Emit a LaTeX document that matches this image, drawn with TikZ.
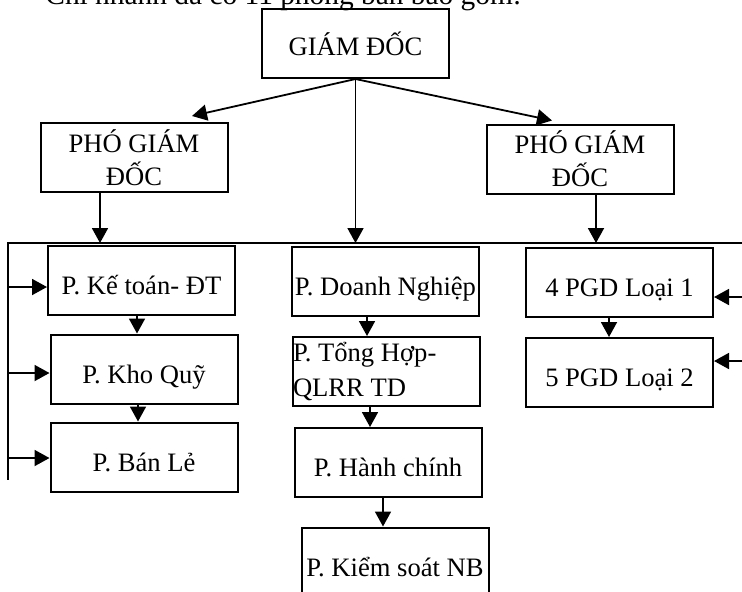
\documentclass[tikz,border=0pt]{standalone}
\usepackage{fontspec}
\setmainfont{Liberation Serif}
\usetikzlibrary{arrows.meta,positioning,calc}
\tikzset{
  orgbox/.style={draw,line width=1pt,inner sep=0pt,minimum width=93.5pt,minimum height=34.5pt,font=\fontsize{13.3}{16.5}\selectfont},
  unitbox/.style={orgbox,text height=14pt,text depth=0pt},
  orgarrow/.style={-{Triangle[length=7.5pt,width=8pt]},line width=0.9pt},
  busline/.style={line width=0.7pt},
}
\begin{document}
\begin{tikzpicture}[x=0.5pt,y=-0.5pt]
    \useasboundingbox (0,0) rectangle (742,591);
    \clip (0,0) rectangle (742,591);
    \node[anchor=base west,inner sep=0pt,font=\fontsize{14.7}{17}\selectfont] (intro) at (45,4) {Chi nhánh đã có 11 phòng ban bao gồm:};
    \node[orgbox] (gd) at (355.5,43.5) {GIÁM ĐỐC};
    \node[orgbox,align=center] (pgdl) at (134,157.5) {PHÓ GIÁM\\ĐỐC};
    \node[orgbox,align=center] (pgdr) at (580,159) {PHÓ GIÁM\\ĐỐC};
    \node[unitbox] (ketoan) at (141.5,280) {P. Kế toán- ĐT};
    \node[unitbox] (khoquy) at (144,369) {P. Kho Quỹ};
    \node[unitbox] (banle) at (144,457) {P. Bán Lẻ};
    \node[unitbox] (doanhng) at (385.5,281) {P. Doanh Nghiệp};
    \node[orgbox,text width=93.5pt,align=flush left,font=\fontsize{13.3}{17.5}\selectfont] (tonghop) at (386.5,371.5) {P. Tổng Hợp-\\QLRR TD};
    \node[unitbox] (hanhchinh) at (388,462.5) {P. Hành chính};
    \node[unitbox] (kiemsoat) at (395,562) {P. Kiểm soát NB};
    \node[unitbox] (pgdfour) at (619.5,282.5) {4 PGD Loại 1};
    \node[unitbox] (pgdfive) at (619.5,372.5) {5 PGD Loại 2};
    % bus
    \coordinate (busl) at (8,243);
    \coordinate (busr) at (745,243);
    \coordinate (busend) at (8,480);
    \draw[busline] (busr) -- (busl) -- (busend);
    \draw[orgarrow] (gd.south) -- ($(pgdl.north)+(58,-6)$);
    \draw[orgarrow] (gd.south) -- ($(pgdr.north)+(-28,-3)$);
    \draw[orgarrow] (gd.south) -- (gd.south |- busl);
    \draw[orgarrow] (100,0 |- pgdl.south) -- (100,0 |- busl);
    \draw[orgarrow] (596,0 |- pgdr.south) -- (596,0 |- busl);
    % stacks
    \foreach \a/\b/\x in {ketoan/khoquy/137,khoquy/banle/138,doanhng/tonghop/367,tonghop/hanhchinh/370,hanhchinh/kiemsoat/383,pgdfour/pgdfive/609}
      \draw[orgarrow] (\x,0 |- \a.south) -- (\x,0 |- \b.north);
    % side feeds
    \foreach \n/\y in {ketoan/287,khoquy/373,banle/458}
      \draw[orgarrow] (8,\y) -- (8,\y -| \n.west);
    \coordinate (feedfour) at (745,297);
    \coordinate (feedfive) at (745,361);
    \draw[orgarrow] (feedfour) -- (feedfour -| pgdfour.east);
    \draw[orgarrow] (feedfive) -- (feedfive -| pgdfive.east);
\end{tikzpicture}
\end{document}
